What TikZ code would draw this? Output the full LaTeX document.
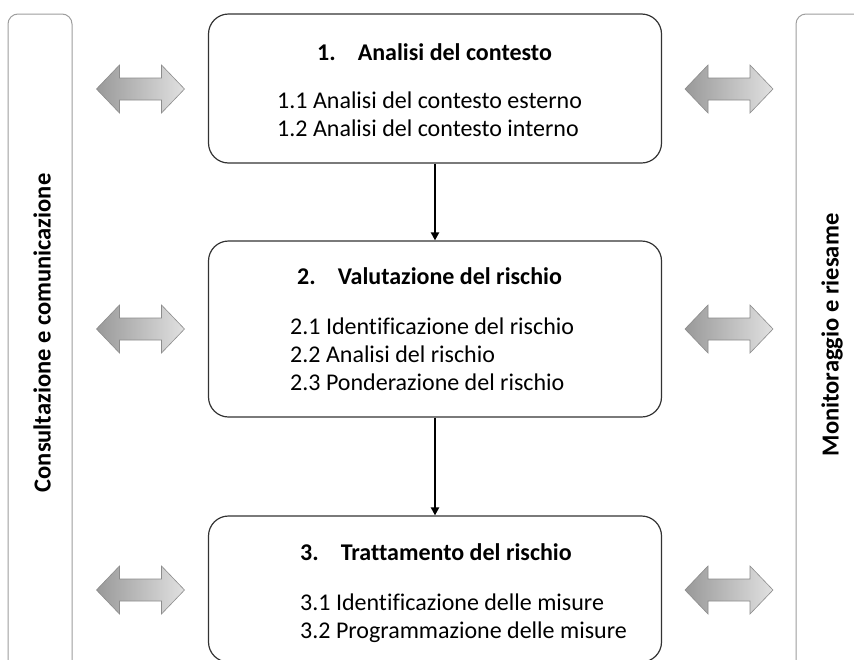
\documentclass[tikz,border=0pt]{standalone}
\usepackage{fontspec}
\setmainfont{Carlito}[Ligatures=NoCommon]
\usetikzlibrary{arrows.meta}

\begin{document}
\begin{tikzpicture}[x=1pt,y=-1pt,
	stage/.style={draw=black!80,line width=1.2pt,rounded corners=20pt,minimum width=453pt},
	sidebar/.style={draw=black!38,line width=1pt,rounded corners=10pt},
	title/.style={anchor=west,font=\fontsize{24}{28}\selectfont\bfseries,inner sep=0pt},
	items/.style={anchor=west,align=left,font=\fontsize{24}{28}\selectfont,inner sep=0pt},
	side/.style={rotate=90,font=\fontsize{24.5}{28}\selectfont\bfseries,inner sep=0pt},
	flow/.style={line width=2.2pt,-{Triangle[length=8pt,width=8pt]}},
	dblarrow/.pic={\draw[draw=black!45,line width=0.6pt,left color=black!40,right color=black!12]
		(-44,0) -- (-21,-24) -- (-21,-11) -- (21,-11) -- (21,-24) -- (44,0)
		-- (21,24) -- (21,11) -- (-21,11) -- (-21,24) -- cycle;}]
	\clip (0,0) rectangle (854,659);
	\fill[white] (0,0) rectangle (854,659);
	\draw[sidebar] (8,14) rectangle (72,672);
	\draw[sidebar] (796,14) rectangle (884,672);
	\node[side] (consult) at (42,333) {Consultazione e comunicazione};
	\node[side] (monitor) at (832,335) {Monitoraggio e riesame};
	\node[stage,minimum height=149pt] (contesto) at (435,88.5) {};
	\node[stage,minimum height=176pt] (valutazione) at (435,329) {};
	\node[stage,minimum height=146pt] (trattamento) at (435,589) {};
	\node[title] (t1) at (317,52) {1.\hspace{22pt}Analisi del contesto};
	\node[items] (i1) at (277,114) {1.1 Analisi del contesto esterno\\1.2 Analisi del contesto interno};
	\node[title] (t2) at (297,276) {2.\hspace{22pt}Valutazione del rischio};
	\node[items] (i2) at (290,354) {2.1 Identificazione del rischio\\2.2 Analisi del rischio\\2.3 Ponderazione del rischio};
	\node[title] (t3) at (300,552) {3.\hspace{22pt}Trattamento del rischio};
	\node[items] (i3) at (300,618.5) {3.1 Identificazione delle misure\\3.2 Programmazione delle misure};
	\draw[flow] (contesto) -- (valutazione);
	\draw[flow] (valutazione) -- (trattamento);
	\pic at (140.5,89) {dblarrow};
	\pic at (140.5,329) {dblarrow};
	\pic at (140.5,590) {dblarrow};
	\pic at (729,89) {dblarrow};
	\pic at (729,329) {dblarrow};
	\pic at (729,590) {dblarrow};
\end{tikzpicture}
\end{document}
